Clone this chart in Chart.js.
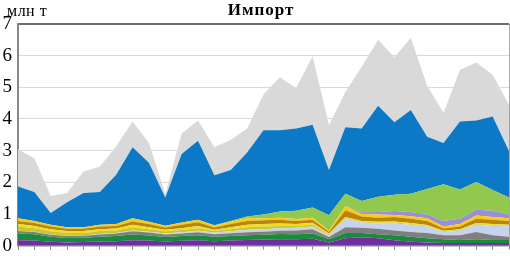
<!DOCTYPE html>
<html>
<head>
<meta charset="utf-8">
<script src="https://cdn.jsdelivr.net/npm/chart.js@4"></script>
<style>
  html, body { margin: 0; padding: 0; background: #fff; }
  #wrap { width: 510px; height: 263px; }
</style>
</head>
<body>
<div id="wrap"><canvas id="chart-import" width="510" height="263"></canvas></div>
<script>
// Импорт — stacked areas, млн т
// ------------------------------------------------------------

const years = [];
for (let y = 1980; y <= 2010; y++) years.push(String(y));

const yTicks = [0, 1, 2, 3, 4, 5, 6, 7];

// layers from the bottom up
const purple     = [.17,.16,.12,.10,.11,.13,.14,.17,.16,.13,.15,.17,.14,.16,.18,.19,.20,.20,.22,.10,.23,.26,.23,.17,.12,.10,.08,.08,.08,.08,.08];
const green      = [.21,.20,.16,.14,.14,.15,.16,.18,.16,.14,.15,.16,.14,.14,.15,.15,.17,.16,.16,.10,.17,.14,.13,.16,.16,.13,.12,.10,.12,.10,.10];
const grey       = [.08,.07,.06,.06,.06,.07,.08,.10,.09,.08,.08,.09,.08,.09,.09,.10,.10,.12,.14,.07,.18,.16,.17,.15,.15,.17,.13,.15,.23,.15,.10];
const lightBlue  = [.01,.01,.01,.01,.01,.02,.02,.03,.03,.03,.04,.05,.05,.06,.08,.08,.08,.08,.08,.05,.27,.17,.17,.22,.23,.20,.10,.15,.23,.30,.32];
const lime       = [.13,.11,.10,.09,.08,.09,.08,.10,.08,.07,.07,.08,.05,.07,.08,.08,.07,.06,.06,.03,.02,.02,.02,.03,.02,.02,.02,.02,.02,.02,.03];
const yellow     = [.08,.07,.07,.06,.06,.06,.06,.08,.06,.05,.06,.07,.04,.06,.08,.08,.08,.06,.06,.03,.03,.03,.03,.03,.03,.03,.02,.02,.03,.03,.03];
const brown      = [.10,.09,.08,.07,.07,.08,.08,.10,.10,.07,.11,.12,.07,.10,.12,.12,.12,.10,.10,.06,.22,.14,.13,.14,.14,.13,.07,.08,.14,.14,.12];
const gold       = [.08,.07,.06,.05,.05,.06,.06,.10,.07,.06,.07,.08,.06,.07,.08,.06,.06,.06,.06,.04,.12,.08,.10,.07,.08,.08,.06,.08,.10,.08,.08];
const lavender   = [0,0,0,0,0,0,0,0,0,0,0,0,0,0,0,0,0,0,0,0,0,.05,.08,.12,.13,.12,.18,.17,.18,.20,.12];
const lightGreen = [0,0,0,0,0,0,0,0,0,0,0,0,.01,.03,.06,.12,.20,.26,.32,.48,.40,.36,.48,.52,.58,.81,1.16,.92,.88,.66,.54];
const blue       = [1.01,.91,.37,.79,1.08,1.03,1.56,2.25,1.87,.89,2.16,2.49,1.58,1.61,2.02,2.66,2.56,2.60,2.62,1.43,2.10,2.29,2.88,2.29,2.64,1.65,1.30,2.15,1.94,2.32,1.47];
const lightGrey  = [1.17,1.07,.54,.29,.68,.80,.90,.81,.63,.10,.65,.64,.89,.95,.76,1.14,1.68,1.28,2.16,1.41,1.11,1.95,2.08,2.05,2.28,1.61,.96,1.63,1.83,1.32,1.46];

const layers = [
  [purple,     '#6f2f9f'],
  [green,      '#1a8a3c'],
  [grey,       '#7f7f7f'],
  [lightBlue,  '#c5d3ee'],
  [lime,       '#c9c92e'],
  [yellow,     '#f0dc22'],
  [brown,      '#b9860c'],
  [gold,       '#ffc90e'],
  [lavender,   '#9b8fd3'],
  [lightGreen, '#93c84f'],
  [blue,       '#0b79c6'],
  [lightGrey,  '#d9d9d9']
];

const SERIF = '"Liberation Serif", "DejaVu Serif", serif';

const textPlugin = {
  id: 'texts',
  afterDraw(chart) {
    const { ctx, chartArea } = chart;
    ctx.save();
    // right frame edge
    ctx.strokeStyle = '#a6a6a6';
    ctx.lineWidth = 1;
    ctx.beginPath();
    ctx.moveTo(chartArea.right + 0.5, chartArea.top);
    ctx.lineTo(chartArea.right + 0.5, chartArea.bottom);
    ctx.stroke();

    ctx.fillStyle = '#000';
    ctx.textBaseline = 'alphabetic';
    ctx.font = 'bold 17px ' + SERIF;
    ctx.letterSpacing = '1px';
    ctx.textAlign = 'center';
    ctx.fillText('Импорт', 261, 15);
    ctx.font = '16px ' + SERIF;
    ctx.letterSpacing = '0.5px';
    ctx.textAlign = 'left';
    ctx.fillText('млн т', 7, 16);
    ctx.restore();
  }
};

const ctxI = document.getElementById('chart-import').getContext('2d');
new Chart(ctxI, {
  type: 'line',
  data: {
    labels: years,
    datasets: layers.map(([data, color], i) => ({
      data,
      backgroundColor: color,
      borderColor: color,
      borderWidth: 0,
      pointRadius: 0,
      tension: 0,
      fill: i === 0 ? 'origin' : '-1'
    }))
  },
  options: {
    responsive: false,
    animation: false,
    layout: { padding: { top: 24, right: 1, bottom: 3, left: 0 } },
    plugins: { legend: { display: false }, tooltip: { enabled: false } },
    scales: {
      x: {
        offset: false,
        ticks: { display: false },
        grid: { drawOnChartArea: false, drawTicks: true, tickLength: 4, color: '#868686' },
        border: { color: '#868686', width: 1.5 }
      },
      y: {
        stacked: true,
        min: yTicks[0],
        max: yTicks[yTicks.length - 1],
        afterFit: s => { s.width = 18; },
        ticks: {
          stepSize: 1,
          padding: 6,
          color: '#000',
          font: { family: SERIF, size: 19 }
        },
        grid: {
          drawTicks: false,
          color: c => c.tick && c.tick.value === 7 ? '#6e6e6e' : '#d9d9d9',
          lineWidth: c => c.tick && c.tick.value === 7 ? 2 : 1
        },
        border: { color: '#868686', width: 2 }
      }
    }
  },
  plugins: [textPlugin]
});
</script>
</body>
</html>
